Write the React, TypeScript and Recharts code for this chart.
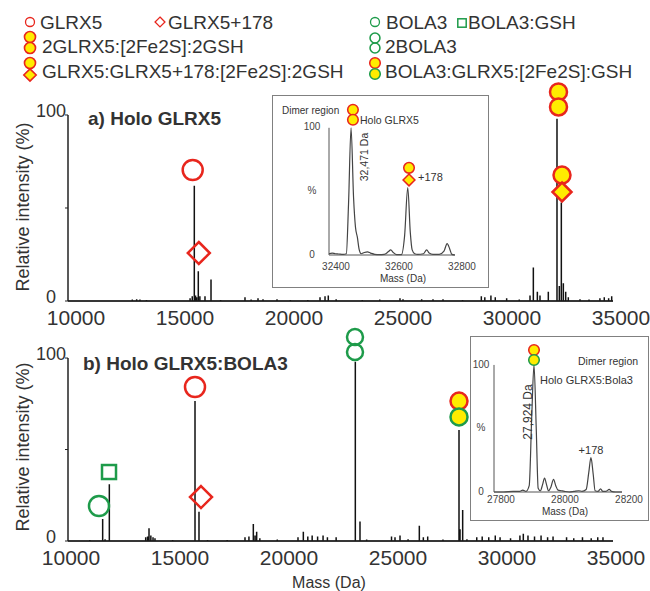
import React from "react";
import { ComposedChart, Line, Scatter, XAxis, YAxis, ReferenceLine } from "recharts";

const FONT = "'Liberation Sans', Arial, sans-serif";
const INK = "#333";
const RED = "#e8261d";
const GREEN = "#1e9b4a";
const YELLOW = "#ffec00";

// main spectra: mass (Da) and relative intensity (%)
const massTicks = [10000, 15000, 20000, 25000, 30000, 35000];
const intensityTicks = [0, 50, 100];

const peaksA: [number, number][] = [
  [10400, 0.4], [11200, 0.3], [12950, 0.8], [13150, 1], [13300, 0.8], [13600, 0.6], [14500, 0.4],
  [15600, 1.5], [15700, 2.5], [15794, 62], [15850, 3], [15900, 2], [15977, 16], [16050, 2.5],
  [16284, 2.5], [16560, 11.6], [17000, 0.6], [18119, 2], [18400, 0.8], [18716, 1.5], [18945, 1],
  [19587, 1], [20200, 0.5], [21000, 0.6], [21560, 2], [21790, 2.5], [21940, 3], [22300, 1],
  [23500, 0.6], [24300, 0.8], [25229, 1.5], [25367, 1], [26223, 1], [26743, 1], [27202, 1],
  [28100, 0.5], [28960, 2.5], [29120, 2], [29400, 3], [29600, 2], [30122, 1.5], [30700, 0.8],
  [31193, 3], [31346, 18], [31530, 5], [31651, 3], [32033, 5], [32431, 98], [32538, 8],
  [32630, 53], [32722, 9.5], [32830, 5], [32950, 2], [33486, 1], [33900, 0.8], [34400, 1.5],
  [34600, 2], [34800, 1.5], [34940, 2.5],
];

const peaksB: [number, number][] = [
  [10800, 0.3], [11000, 0.5], [11200, 0.4], [11590, 12], [11700, 1], [11896, 31], [12500, 0.4],
  [13564, 2], [13650, 2.5], [13716, 7], [13800, 3], [13900, 2], [13990, 1.5], [14800, 0.5],
  [15826, 76.5], [16009, 16], [16400, 0.6], [17300, 0.5], [18119, 2], [18300, 2.5], [18501, 9.3],
  [18580, 3], [18654, 5], [18800, 1.5], [19600, 0.8], [20550, 2], [20795, 5], [21000, 2.5],
  [21200, 3], [21450, 2.5], [21700, 3], [21900, 2], [22300, 2], [23180, 98], [23394, 10.6],
  [23700, 0.8], [24840, 2.5], [25000, 2], [25230, 3], [25600, 1], [26116, 8.4], [26300, 2],
  [26500, 2.5], [27200, 0.8], [27936, 60.7], [27982, 6.4], [28104, 17], [28300, 1], [28750, 2],
  [29000, 2.5], [29300, 2], [29600, 3], [29820, 2], [30300, 1.5], [30730, 3], [30886, 4],
  [31100, 3], [31400, 2.5], [31700, 3], [32000, 2], [32250, 2.5], [32870, 2], [33200, 1.5],
  [33600, 2], [34000, 1.5], [34300, 2], [34540, 2],
];

type Mark = { m: number; v: number; kind: string };

const marksA: Mark[] = [
  { m: 15720, v: 70.4, kind: "ringRed" },
  { m: 16000, v: 25.8, kind: "diamondRed" },
  { m: 32500, v: 112.4, kind: "dotRed" },
  { m: 32500, v: 104.3, kind: "dotRed" },
  { m: 32661, v: 67.7, kind: "dotRed" },
  { m: 32661, v: 58.6, kind: "diamondYellow" },
];

const marksB: Mark[] = [
  { m: 11422, v: 19.1, kind: "ringGreen" },
  { m: 11881, v: 37.7, kind: "squareGreen" },
  { m: 15826, v: 84.2, kind: "ringRed" },
  { m: 16101, v: 24, kind: "diamondRed" },
  { m: 23165, v: 111.5, kind: "pairGreen" },
  { m: 23165, v: 103.3, kind: "pairGreen" },
  { m: 27936, v: 76.5, kind: "dotRed" },
  { m: 27936, v: 67.8, kind: "dotGreen" },
];

// dimer region insets
const insetTicksA = [32400, 32600, 32800];
const traceA: [number, number][] = [
  [32400, 1], [32410, 1.5], [32420, 1], [32430, 0.8], [32445, 0.5], [32455, 1], [32462, 40],
  [32470, 100], [32478, 45], [32484, 22], [32490, 14], [32496, 4], [32502, 1], [32512, 2],
  [32522, 2.5], [32532, 1.5], [32545, 0.5], [32560, 0.3], [32575, 0.5], [32588, 2.5],
  [32596, 4], [32604, 2], [32615, 0.3], [32630, 0.3], [32640, 15], [32650, 53], [32658, 18],
  [32664, 4], [32672, 1], [32682, 0.5], [32700, 1], [32710, 4], [32718, 1.5], [32730, 0.5],
  [32750, 0.5], [32765, 3], [32775, 9], [32783, 5], [32790, 0.5], [32800, 0],
];
const insetMarksA: Mark[] = [
  { m: 32476, v: 114.2, kind: "dotRed" },
  { m: 32476, v: 106.3, kind: "dotRed" },
  { m: 32654, v: 68.5, kind: "dotRed" },
  { m: 32654, v: 59, kind: "diamondYellow" },
];

const insetTicksB = [27800, 28000, 28200];
const traceB: [number, number][] = [
  [27800, 0], [27830, 0], [27860, 0.5], [27880, 0.5], [27890, 1.5], [27900, 0.5], [27910, 5],
  [27918, 60], [27925, 100], [27932, 50], [27938, 3], [27945, 1], [27952, 6], [27958, 11],
  [27964, 6], [27970, 1], [27978, 4], [27986, 10], [27993, 5], [28000, 1.5], [28010, 1],
  [28020, 0.5], [28035, 0], [28050, 0.5], [28065, 1], [28075, 0.5], [28088, 2], [28096, 15],
  [28103, 27], [28110, 14], [28116, 1], [28125, 0.5], [28133, 2.5], [28140, 0.5], [28150, 0.5],
  [28160, 2], [28167, 0.5], [28180, 0], [28200, 0],
];
const insetMarksB: Mark[] = [
  { m: 27925, v: 111.8, kind: "dotRed" },
  { m: 27925, v: 103.9, kind: "dotGreen" },
];

function sticks(peaks: [number, number][], lo: number, hi: number) {
  const out = [{ m: lo, v: 0 }];
  [...peaks]
    .sort((a, b) => a[0] - b[0])
    .forEach(([m, v]) => out.push({ m, v: 0 }, { m, v }, { m, v: 0 }));
  out.push({ m: hi, v: 0 });
  return out;
}

const toPts = (pairs: [number, number][]) => pairs.map(([m, v]) => ({ m, v }));

function Glyph({ cx, cy, kind, s = 1 }: { cx: number; cy: number; kind: string; s?: number }) {
  const w = Math.max(1.3, 2.5 * s);
  const diamond = (h: number) => `M${cx},${cy - h}L${cx + h},${cy}L${cx},${cy + h}L${cx - h},${cy}Z`;
  switch (kind) {
    case "ringRed":
      return <circle cx={cx} cy={cy} r={10 * s} fill="none" stroke={RED} strokeWidth={w} />;
    case "ringGreen":
      return <circle cx={cx} cy={cy} r={10 * s} fill="none" stroke={GREEN} strokeWidth={w} />;
    case "pairGreen":
      return <circle cx={cx} cy={cy} r={8 * s} fill="none" stroke={GREEN} strokeWidth={w} />;
    case "diamondRed":
      return <path d={diamond(11 * s)} fill="none" stroke={RED} strokeWidth={w} />;
    case "diamondYellow":
      return <path d={diamond(9.5 * s)} fill={YELLOW} stroke={RED} strokeWidth={w} />;
    case "squareGreen":
      return (
        <rect x={cx - 7 * s} y={cy - 7 * s} width={14 * s} height={14 * s} fill="none" stroke={GREEN} strokeWidth={w} />
      );
    case "dotGreen":
      return <circle cx={cx} cy={cy} r={8.5 * s} fill={YELLOW} stroke={GREEN} strokeWidth={w} />;
    default:
      return <circle cx={cx} cy={cy} r={8.5 * s} fill={YELLOW} stroke={RED} strokeWidth={w} />;
  }
}

const glyphShape = (s: number) => (p: any) =>
  <Glyph cx={p.cx} cy={p.cy} kind={p.payload?.kind ?? p.kind} s={s} />;

function SpectrumPanel({
  top,
  height,
  peaks,
  marks,
  marginTop,
  xHeight,
  labelDx,
}: {
  top: number;
  height: number;
  peaks: [number, number][];
  marks: Mark[];
  marginTop: number;
  xHeight: number;
  labelDx: number;
}) {
  return (
    <div style={{ position: "absolute", left: 0, top }}>
      <ComposedChart width={650} height={height} margin={{ top: marginTop, right: 37, bottom: 0, left: 0 }}>
        <XAxis
          type="number"
          dataKey="m"
          domain={[10000, 35000]}
          ticks={massTicks}
          interval={0}
          height={xHeight}
          tickLine={false}
          tickMargin={3}
          axisLine={{ stroke: "#222", strokeWidth: 1.2 }}
          tick={{ fontSize: 21, fill: INK, fontFamily: FONT, dx: labelDx }}
        />
        <YAxis
          type="number"
          dataKey="v"
          domain={[0, 118]}
          ticks={intensityTicks}
          interval={0}
          width={68}
          axisLine={false}
          tickSize={3}
          tickMargin={14}
          tickLine={{ stroke: "#222" }}
          tickFormatter={(v: number) => (v === 50 ? "" : String(v))}
          tick={{ fontSize: 18, fill: INK, fontFamily: FONT, textAnchor: "middle", dy: -4 }}
        />
        <ReferenceLine
          segment={[
            { x: 10000, y: 0 },
            { x: 10000, y: 100 },
          ]}
          stroke="#222"
          strokeWidth={1.5}
        />
        <Line
          data={sticks(peaks, 10000, 35000)}
          dataKey="v"
          type="linear"
          stroke="#111"
          strokeWidth={1.5}
          dot={false}
          activeDot={false}
          isAnimationActive={false}
        />
        <Scatter data={marks} dataKey="v" shape={glyphShape(1)} isAnimationActive={false} />
      </ComposedChart>
    </div>
  );
}

function Inset({
  left,
  top,
  width,
  height,
  yWidth,
  right,
  xHeight,
  ymax,
  domain,
  ticks,
  trace,
  marks,
  yGap,
  xGap,
  xDx,
}: {
  left: number;
  top: number;
  width: number;
  height: number;
  yWidth: number;
  right: number;
  xHeight: number;
  ymax: number;
  domain: [number, number];
  ticks: number[];
  trace: [number, number][];
  marks: Mark[];
  yGap: number;
  xGap: number;
  xDx: number;
}) {
  const tickStyle = { fontSize: 10, fill: "#444", fontFamily: FONT };
  return (
    <div
      style={{
        position: "absolute",
        left,
        top,
        width,
        height,
        background: "#fff",
        outline: "1px solid #808080",
      }}
    >
      <ComposedChart width={width} height={height} margin={{ top: 0, right, bottom: 0, left: 0 }}>
        <XAxis
          type="number"
          dataKey="m"
          domain={domain}
          ticks={ticks}
          interval={0}
          height={xHeight}
          tickLine={false}
          tickSize={xGap / 2}
          tickMargin={xGap / 2}
          axisLine={{ stroke: "#555" }}
          tick={{ ...tickStyle, dx: xDx }}
        />
        <YAxis
          type="number"
          dataKey="v"
          domain={[0, ymax]}
          ticks={intensityTicks}
          interval={0}
          width={yWidth}
          axisLine={false}
          tickLine={false}
          tickSize={yGap / 2}
          tickMargin={yGap / 2}
          tickFormatter={(v: number) => (v === 50 ? "%" : String(v))}
          tick={{ ...tickStyle, textAnchor: "middle", dy: -1 }}
        />
        <ReferenceLine
          segment={[
            { x: domain[0], y: 0 },
            { x: domain[0], y: 100 },
          ]}
          stroke="#555"
        />
        <Line
          data={toPts(trace)}
          dataKey="v"
          type="monotone"
          stroke="#444"
          strokeWidth={1.2}
          dot={false}
          activeDot={false}
          isAnimationActive={false}
        />
        <Scatter data={marks} dataKey="v" shape={glyphShape(0.62)} isAnimationActive={false} />
      </ComposedChart>
    </div>
  );
}

const legendText = { fontSize: 19, fill: INK, fontFamily: FONT, dominantBaseline: "central" as const };
const smallText = { fill: INK, fontFamily: FONT, dominantBaseline: "central" as const };

export default function App() {
  return (
    <div
      style={{
        position: "absolute",
        left: 0,
        top: 0,
        width: 650,
        height: 591,
        background: "#fff",
        overflow: "hidden",
      }}
    >
      <SpectrumPanel top={70} height={270} peaks={peaksA} marks={marksA} marginTop={11.5} xHeight={39} labelDx={8} />
      <SpectrumPanel top={310} height={281} peaks={peaksB} marks={marksB} marginTop={15.1} xHeight={50} labelDx={3} />

      <Inset
        left={273}
        top={96}
        width={215}
        height={191}
        yWidth={56}
        right={33}
        xHeight={32}
        ymax={125}
        domain={[32400, 32800]}
        ticks={insetTicksA}
        trace={traceA}
        marks={insetMarksA}
        yGap={17}
        xGap={8}
        xDx={7}
      />
      <Inset
        left={471}
        top={337}
        width={177}
        height={183}
        yWidth={23}
        right={26}
        xHeight={28}
        ymax={122}
        domain={[27800, 28200]}
        ticks={insetTicksB}
        trace={traceB}
        marks={insetMarksB}
        yGap={13}
        xGap={4}
        xDx={7}
      />

      <svg
        width={650}
        height={591}
        style={{ position: "absolute", left: 0, top: 0, pointerEvents: "none" }}
      >
        {/* legend */}
        <Glyph cx={30} cy={22} kind="ringRed" s={0.45} />
        <text x={40} y={22} {...legendText}>GLRX5</text>
        <Glyph cx={160} cy={22} kind="diamondRed" s={0.45} />
        <text x={168} y={22} {...legendText}>GLRX5+178</text>
        <Glyph cx={375} cy={22} kind="ringGreen" s={0.45} />
        <text x={386} y={22} {...legendText}>BOLA3</text>
        <Glyph cx={462} cy={23} kind="squareGreen" s={0.6} />
        <text x={468} y={22} {...legendText}>BOLA3:GSH</text>

        <Glyph cx={30} cy={37} kind="dotRed" s={0.65} />
        <Glyph cx={30} cy={48} kind="dotRed" s={0.65} />
        <text x={42} y={46} {...legendText}>2GLRX5:[2Fe2S]:2GSH</text>
        <Glyph cx={375} cy={38} kind="pairGreen" s={0.62} />
        <Glyph cx={375} cy={48} kind="pairGreen" s={0.62} />
        <text x={385} y={46} {...legendText}>2BOLA3</text>

        <Glyph cx={30} cy={63} kind="dotRed" s={0.65} />
        <Glyph cx={30} cy={75} kind="diamondYellow" s={0.65} />
        <text x={42} y={71} {...legendText}>GLRX5:GLRX5+178:[2Fe2S]:2GSH</text>
        <Glyph cx={375} cy={63} kind="dotRed" s={0.62} />
        <Glyph cx={375} cy={74} kind="dotGreen" s={0.62} />
        <text x={385} y={71} {...legendText}>BOLA3:GLRX5:[2Fe2S]:GSH</text>

        {/* panel titles and axis titles */}
        <text x={88} y={118} {...legendText} fontWeight="bold">a) Holo GLRX5</text>
        <text x={83} y={363} {...legendText} fontWeight="bold">b) Holo GLRX5:BOLA3</text>
        <text
          x={23}
          y={207}
          {...smallText}
          fontSize={18}
          textAnchor="middle"
          transform="rotate(-90 23 207)"
        >
          Relative intensity (%)
        </text>
        <text
          x={23}
          y={447}
          {...smallText}
          fontSize={18}
          textAnchor="middle"
          transform="rotate(-90 23 447)"
        >
          Relative intensity (%)
        </text>
        <text x={329} y={582} {...smallText} fontSize={16} textAnchor="middle">Mass (Da)</text>

        {/* inset a labels */}
        <text x={282} y={110} {...smallText} fontSize={10}>Dimer region</text>
        <text x={360} y={120} {...smallText} fontSize={10.5}>Holo GLRX5</text>
        <text x={364} y={157} {...smallText} fontSize={10.5} textAnchor="middle" transform="rotate(-90 364 157)">
          32,471 Da
        </text>
        <text x={418} y={177} {...smallText} fontSize={11}>+178</text>
        <text x={403} y={278} {...smallText} fontSize={10} textAnchor="middle">Mass (Da)</text>

        {/* inset b labels */}
        <text x={578} y={361} {...smallText} fontSize={10.5}>Dimer region</text>
        <text x={540} y={380} {...smallText} fontSize={11}>Holo GLRX5:Bola3</text>
        <text x={528} y={412} {...smallText} fontSize={12} textAnchor="middle" transform="rotate(-90 528 412)">
          27,924 Da
        </text>
        <text x={591} y={450} {...smallText} fontSize={11} textAnchor="middle">+178</text>
        <text x={565} y={511} {...smallText} fontSize={10} textAnchor="middle">Mass (Da)</text>
      </svg>
    </div>
  );
}
